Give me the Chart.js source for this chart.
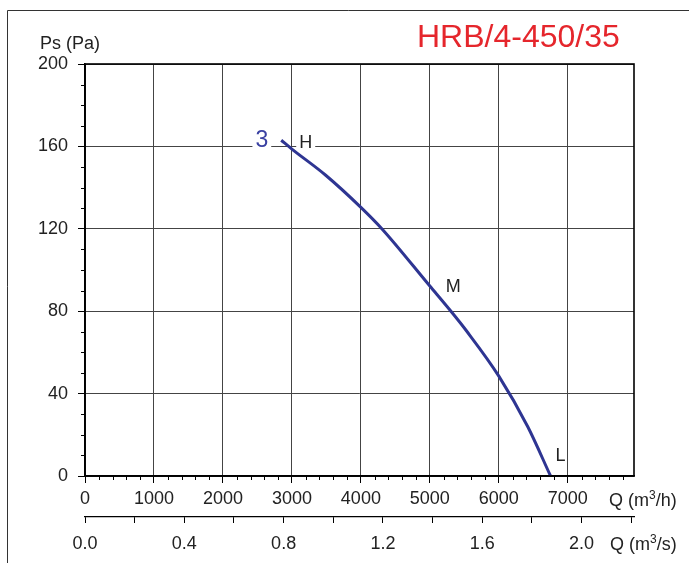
<!DOCTYPE html>
<html>
<head>
<meta charset="utf-8">
<script src="https://cdn.jsdelivr.net/npm/chart.js@4/dist/chart.umd.min.js"></script>
<style>
  html, body { margin: 0; padding: 0; background: #fff; }
  #wrap { position: relative; width: 689px; height: 563px; }
</style>
</head>
<body>
<div id="wrap"><canvas id="fanChart" width="689" height="563"></canvas></div>
<script>
// Fan curve HRB/4-450/35, speed 3
const flowM3h = [2845, 3000, 3490, 4000, 4310, 5000, 5300, 5530, 6000, 6420, 6750];
const pressurePa = [163.0, 158.7, 146.0, 130.4, 119.8, 92.2, 80.2, 70.5, 48.5, 23.9, 0];

const xTicksM3h = [0, 1000, 2000, 3000, 4000, 5000, 6000, 7000];
const xTicksM3s = [0.0, 0.4, 0.8, 1.2, 1.6, 2.0];
const yTicksPa = [0, 40, 80, 120, 160, 200];

const X_MAX = 7960;
const FONT = "'Liberation Sans', Arial, Helvetica, sans-serif";
const CURVE_BLUE = '#2e3592';
const TXT = 18;

Chart.defaults.font.family = FONT;
Chart.defaults.font.size = TXT;
Chart.defaults.color = '#222';

function drawText(ctx, txt, x, y, size, color, align) {
    ctx.font = size + 'px ' + FONT;
    ctx.fillStyle = color;
    ctx.textAlign = align || 'left';
    ctx.textBaseline = 'alphabetic';
    ctx.fillText(txt, x, y);
}

// "Q (m3/h)" with a raised 3
function drawUnit(ctx, tail, x, y) {
    ctx.font = TXT + 'px ' + FONT;
    ctx.fillStyle = '#222';
    ctx.textAlign = 'left';
    ctx.textBaseline = 'alphabetic';
    ctx.fillText('Q (m', x, y);
    let w = ctx.measureText('Q (m').width;
    ctx.font = '12px ' + FONT;
    ctx.fillText('3', x + w, y - 7);
    w += ctx.measureText('3').width;
    ctx.font = TXT + 'px ' + FONT;
    ctx.fillText(tail, x + w, y);
}

function labelWithBg(ctx, txt, x, y, size, color, align) {
    ctx.font = size + 'px ' + FONT;
    const w = ctx.measureText(txt).width;
    const left = align === 'right' ? x - w : x;
    ctx.fillStyle = '#fff';
    ctx.fillRect(left - 3, y - size * 0.8, w + 6, size * 0.9);
    drawText(ctx, txt, x, y, size, color, align);
}

const decorations = {
    id: 'decorations',
    afterDraw(chart) {
        const { ctx, chartArea: a, scales: { x, y } } = chart;
        ctx.save();

        // minor ticks
        ctx.strokeStyle = '#000';
        ctx.lineWidth = 1;
        ctx.beginPath();
        for (let v = 200; v < X_MAX; v += 200) {
            if (v % 1000 === 0) continue;
            const px = Math.round(x.getPixelForValue(v)) + 0.5;
            ctx.moveTo(px, a.bottom);
            ctx.lineTo(px, a.bottom + 4);
        }
        for (let v = 10; v < 200; v += 10) {
            if (v % 40 === 0) continue;
            const py = Math.round(y.getPixelForValue(v)) + 0.5;
            ctx.moveTo(a.left - 4, py);
            ctx.lineTo(a.left, py);
        }
        ctx.stroke();

        // plot frame
        ctx.lineWidth = 1.6;
        ctx.strokeRect(a.left, a.top, a.right - a.left, a.bottom - a.top);

        // outer frame of the sheet
        ctx.strokeStyle = '#333';
        ctx.lineWidth = 1;
        ctx.beginPath();
        ctx.moveTo(7.5, 563);
        ctx.lineTo(7.5, 10.5);
        ctx.lineTo(689, 10.5);
        ctx.stroke();

        // titles
        drawText(ctx, 'HRB/4-450/35', 417, 47, 32, '#e5262c');
        drawText(ctx, 'Ps (Pa)', 40, 49, TXT, '#222');
        drawUnit(ctx, '/h)', 609, 506);
        drawUnit(ctx, '/s)', 610, 550);

        // curve labels anchored on the curve
        const n = flowM3h.length - 1;
        const hx = x.getPixelForValue(flowM3h[0]), hy = y.getPixelForValue(pressurePa[0]);
        labelWithBg(ctx, '3', hx - 13, hy + 7, 23, '#3a41a2', 'right');
        labelWithBg(ctx, 'H', hx + 18, hy + 8, TXT, '#222', 'left');
        const mx = x.getPixelForValue(flowM3h[5]), my = y.getPixelForValue(pressurePa[5]);
        drawText(ctx, 'M', mx + 16, my + 6, TXT, '#222');
        const lx = x.getPixelForValue(flowM3h[n]), ly = y.getPixelForValue(pressurePa[n]);
        drawText(ctx, 'L', lx + 5, ly - 15, TXT, '#222');

        ctx.restore();
    }
};

new Chart(document.getElementById('fanChart'), {
    type: 'line',
    data: {
        datasets: [{
            label: '3',
            data: flowM3h.map((q, i) => ({ x: q, y: pressurePa[i] })),
            borderColor: CURVE_BLUE,
            borderWidth: 3,
            pointRadius: 0,
            tension: 0.4,
            cubicInterpolationMode: 'monotone',
            fill: false
        }]
    },
    options: {
        responsive: false,
        animation: false,
        layout: { padding: { top: 64, right: 55, bottom: 6, left: 0 } },
        plugins: { legend: { display: false }, tooltip: { enabled: false } },
        scales: {
            x: {
                type: 'linear',
                position: 'bottom',
                weight: 0,
                min: 0,
                max: X_MAX,
                afterBuildTicks: s => { s.ticks = xTicksM3h.map(v => ({ value: v })); },
                afterFit: s => { s.height = 41; },
                ticks: { padding: 5, maxRotation: 0, autoSkip: false, callback: v => String(v) },
                grid: { color: '#444', lineWidth: 1, tickLength: 7, tickColor: '#000' },
                border: { color: '#000', width: 1.6 }
            },
            x2: {
                type: 'linear',
                position: 'bottom',
                weight: 1,
                min: 0,
                max: X_MAX / 3600,
                afterBuildTicks: s => {
                    const t = [];
                    for (let i = 0; i <= 11; i++) t.push({ value: i * 0.2 });
                    s.ticks = t;
                },
                afterFit: s => { s.height = 40; },
                ticks: {
                    padding: 10,
                    maxRotation: 0,
                    autoSkip: false,
                    callback: v => xTicksM3s.some(m => Math.abs(m - v) < 1e-6) ? v.toFixed(1) : ''
                },
                grid: { drawOnChartArea: false, tickLength: 6, color: '#000', lineWidth: 1 },
                border: { color: '#000', width: 1.2 }
            },
            y: {
                type: 'linear',
                min: 0,
                max: 200,
                afterBuildTicks: s => { s.ticks = yTicksPa.map(v => ({ value: v })); },
                afterFit: s => { s.width = 85; },
                ticks: { padding: 10, callback: v => String(v) },
                grid: { color: '#444', lineWidth: 1, tickLength: 7, tickColor: '#000' },
                border: { color: '#000', width: 1.6 }
            }
        }
    },
    plugins: [decorations]
});
</script>
</body>
</html>
